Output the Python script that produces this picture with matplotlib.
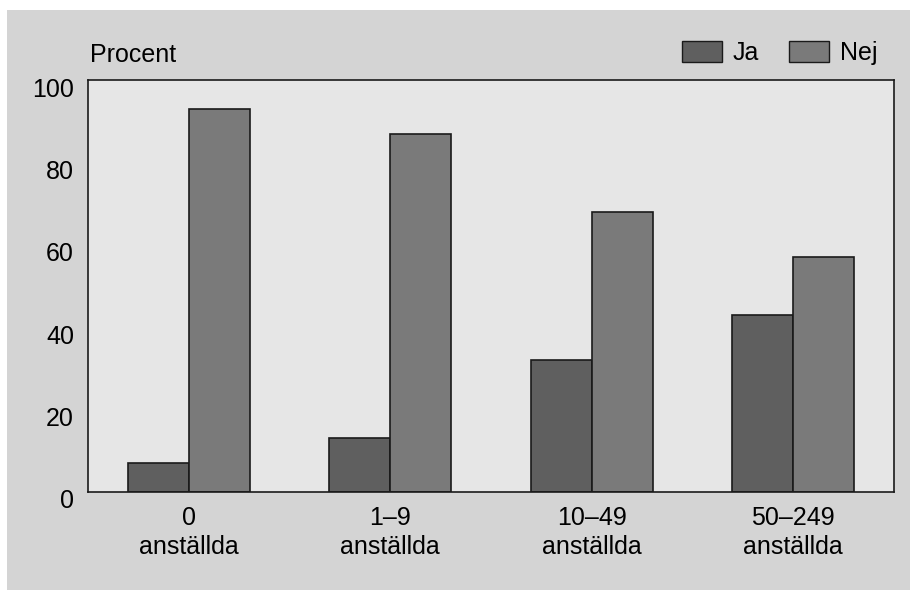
# Andel företag (Ja/Nej) per storleksklass

import matplotlib.pyplot as plt
import matplotlib.transforms as mtransforms
from matplotlib.patches import Rectangle, Patch
import numpy as np

plt.rcParams['font.family'] = ['Liberation Sans', 'DejaVu Sans']

categories = ['0\nanställda', '1–9\nanställda', '10–49\nanställda', '50–249\nanställda']
ja = [7, 13, 32, 43]
nej = [93, 87, 68, 57]
yticks = [0, 20, 40, 60, 80, 100]

W, H = 910, 590
FS = 18
fig = plt.figure(figsize=(W / 100, H / 100), dpi=100, facecolor='white')

# grey panel behind the chart
fig.patches.append(Rectangle((7 / W, 0), 1 - 7 / W, (H - 10) / H,
                             transform=fig.transFigure, facecolor='#d4d4d4',
                             edgecolor='none', zorder=-10))

ax = fig.add_axes([88 / W, (H - 492) / H, (894 - 88) / W, (492 - 80) / H])
ax.set_facecolor('#e6e6e6')

x = np.arange(len(categories))
width = 0.303
ax.bar(x - width / 2, ja, width, color='#5f5f5f', edgecolor='#1a1a1a', linewidth=1.2, label='Ja')
ax.bar(x + width / 2, nej, width, color='#7a7a7a', edgecolor='#1a1a1a', linewidth=1.2, label='Nej')

ax.set_xlim(-0.5, 3.5)
ax.set_ylim(0, 100)
ax.set_yticks(yticks)
ax.set_xticks(x)
ax.set_xticklabels(categories, fontsize=FS, linespacing=1.25)
ax.tick_params(axis='x', length=0, pad=10)
ax.tick_params(axis='y', length=0, pad=10, labelsize=FS)

# y labels sit a little below their gridline values
offset = mtransforms.ScaledTranslation(0, -7 / 100, fig.dpi_scale_trans)
for lab in ax.get_yticklabels():
    lab.set_transform(lab.get_transform() + offset)

for s in ax.spines.values():
    s.set_color('#1a1a1a')
    s.set_linewidth(1.2)

fig.text(90 / W, 1 - 55 / H, 'Procent', fontsize=FS, va='center', ha='left')

handles = [Patch(facecolor='#5f5f5f', edgecolor='#1a1a1a', label='Ja'),
           Patch(facecolor='#7a7a7a', edgecolor='#1a1a1a', label='Nej')]
fig.legend(handles=handles, loc='upper right', bbox_to_anchor=(878 / W, 1 - 41 / H),
           ncol=2, frameon=False, fontsize=FS, handlelength=1.6, handleheight=0.9,
           handletextpad=0.45, columnspacing=1.2, borderpad=0, borderaxespad=0)

plt.savefig('out.png', dpi=100, facecolor='white')
